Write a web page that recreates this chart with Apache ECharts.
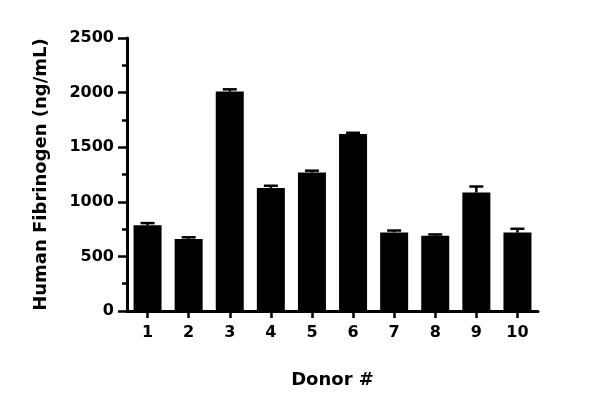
<!DOCTYPE html>
<html>
<head>
<meta charset="utf-8">
<script src="https://cdn.jsdelivr.net/npm/echarts@6/dist/echarts.min.js"></script>
<style>
html,body{margin:0;padding:0;background:#fff;}
#chart{width:600px;height:403px;}
</style>
</head>
<body>
<div id="chart"></div>
<script>
var categories = ['1','2','3','4','5','6','7','8','9','10'];
var means = [785, 660, 2010, 1127, 1268, 1620, 720, 688, 1085, 718];
var errors = [20, 15, 20, 20, 17, 12, 17, 13, 55, 35];
var yTicks = [0, 500, 1000, 1500, 2000, 2500];

var FONT = 'DejaVu Sans';
var chart = echarts.init(document.getElementById('chart'), null, {renderer: 'canvas'});

var errData = categories.map(function (c, i) { return [i, means[i], means[i] + errors[i]]; });

chart.setOption({
  animation: false,
  backgroundColor: '#ffffff',
  grid: {left: 127, right: 62, top: 38, bottom: 92, containLabel: false},
  xAxis: {
    type: 'category',
    data: categories,
    name: 'Donor #',
    nameLocation: 'middle',
    nameGap: 60,
    nameTextStyle: {fontFamily: FONT, fontWeight: 'bold', fontSize: 18, color: '#000'},
    axisLine: {lineStyle: {color: '#000', width: 3}},
    axisTick: {show: true, alignWithLabel: true, length: 7, lineStyle: {color: '#000', width: 2.5}},
    axisLabel: {fontFamily: FONT, fontWeight: 'bold', fontSize: 16, color: '#000', margin: 14}
  },
  yAxis: {
    type: 'value',
    min: yTicks[0],
    max: yTicks[yTicks.length - 1],
    interval: 500,
    name: 'Human Fibrinogen (ng/mL)',
    nameLocation: 'middle',
    nameGap: 77,
    nameRotate: 90,
    nameTextStyle: {fontFamily: FONT, fontWeight: 'bold', fontSize: 18, color: '#000'},
    axisLine: {show: true, lineStyle: {color: '#000', width: 3}},
    axisTick: {show: true, length: 9, lineStyle: {color: '#000', width: 2.5}},
    minorTick: {show: true, splitNumber: 2, length: 5, lineStyle: {color: '#000', width: 2.5}},
    splitLine: {show: false},
    axisLabel: {
      fontFamily: FONT, fontWeight: 'bold', fontSize: 16, color: '#000', margin: 13,
      formatter: function (v) { return String(v); }
    }
  },
  series: [
    {
      type: 'bar',
      data: means,
      barWidth: 28,
      itemStyle: {color: '#000'},
      z: 2
    },
    {
      type: 'custom',
      data: errData,
      z: 3,
      renderItem: function (params, api) {
        var x = api.value(0);
        var lo = api.coord([x, api.value(1)]);
        var hi = api.coord([x, api.value(2)]);
        var half = 7;
        var style = {stroke: '#000', lineWidth: 2.5};
        return {
          type: 'group',
          children: [
            {type: 'line', shape: {x1: lo[0], y1: lo[1], x2: hi[0], y2: hi[1]}, style: style},
            {type: 'line', shape: {x1: hi[0] - half, y1: hi[1], x2: hi[0] + half, y2: hi[1]}, style: style}
          ]
        };
      }
    }
  ]
});
</script>
</body>
</html>
